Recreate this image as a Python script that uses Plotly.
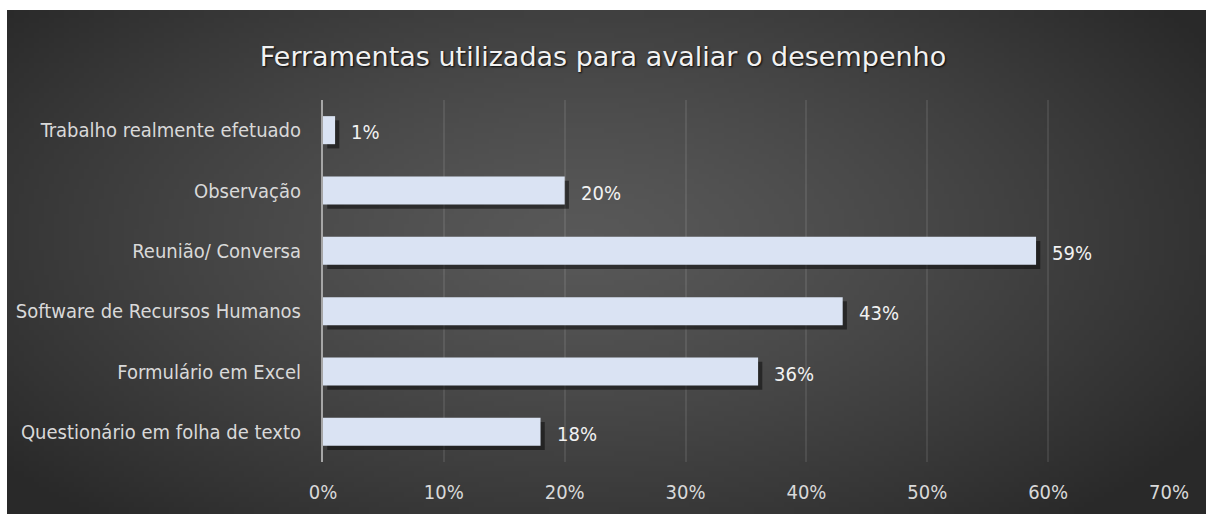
import base64, struct, zlib, math
import plotly.graph_objects as go

# ---- data ----
categories = ["Trabalho realmente efetuado", "Observação", "Reunião/ Conversa",
              "Software de Recursos Humanos", "Formulário em Excel",
              "Questionário em folha de texto"]
values = [1, 20, 59, 43, 36, 18]
title_text = "Ferramentas utilizadas para avaliar o desempenho"

# plotly categorical y goes bottom->top, so reverse for display
cats_plot = categories[::-1]
vals_plot = values[::-1]

# ---- gradient background image (style only) ----
def make_png(w, h):
    rows = []
    for j in range(h):
        row = bytearray([0])
        for i in range(w):
            dx = (i / (w - 1) - 0.48) / 0.62
            dy = (j / (h - 1) - 0.45) / 0.75
            r = min(1.0, math.sqrt(dx * dx + dy * dy))
            c = int(round(0x58 + (0x29 - 0x58) * r ** 1.3))
            row += bytes([c, c, c])
        rows.append(bytes(row))
    raw = b"".join(rows)
    def chunk(t, d):
        return struct.pack(">I", len(d)) + t + d + struct.pack(">I", zlib.crc32(t + d) & 0xffffffff)
    png = b"\x89PNG\r\n\x1a\n" + chunk(b"IHDR", struct.pack(">IIBBBBB", w, h, 8, 2, 0, 0, 0))
    png += chunk(b"IDAT", zlib.compress(raw, 9)) + chunk(b"IEND", b"")
    return "data:image/png;base64," + base64.b64encode(png).decode()

W, H = 1206, 515
L, R, T, B = 323, 37, 100, 53
pw, ph = W - L - R, H - T - B

bg = make_png(240, 100)

FONT = "DejaVu Sans Condensed, DejaVu Sans, sans-serif"
FS = 20
bw = 0.465

fig = go.Figure()
# shadow
fig.add_trace(go.Bar(
    y=cats_plot, x=vals_plot, base=0.35, orientation="h",
    width=bw, offset=-bw / 2 - 0.07,
    marker=dict(color="rgba(0,0,0,0.45)", line=dict(width=0)),
    hoverinfo="skip", showlegend=False))
# bars
fig.add_trace(go.Bar(
    y=cats_plot, x=vals_plot, orientation="h",
    width=bw, offset=-bw / 2,
    marker=dict(color="#DAE3F3", line=dict(width=0)),
    showlegend=False))

for c, v in zip(cats_plot, vals_plot):
    fig.add_annotation(x=v, y=c, text=f"{v}%", showarrow=False,
                       xanchor="left", yanchor="middle", xshift=14, yshift=-2,
                       font=dict(family=FONT, size=FS, color="#F2F2F2"))

fig.update_layout(
    width=W, height=H,
    margin=dict(l=L, r=R, t=T, b=B, pad=0),
    paper_bgcolor="white", plot_bgcolor="rgba(0,0,0,0)",
    barmode="overlay",
    title=dict(text=title_text, x=0.5, xref="container", xanchor="center",
               y=1 - 57 / H, yref="container", yanchor="middle",
               font=dict(family="DejaVu Sans, sans-serif", size=27, color="#F2F2F2",
                         shadow="1px 1px 2px rgba(0,0,0,0.9)")),
    xaxis=dict(range=[0, 70], dtick=10, ticksuffix="%", showgrid=True,
               gridcolor="rgba(255,255,255,0.09)", gridwidth=1.5,
               zeroline=False, showline=False, ticks="",
               ticklabelstandoff=16,
               tickfont=dict(family=FONT, size=FS, color="#D9D9D9")),
    yaxis=dict(showgrid=False, zeroline=False, showline=True,
               linecolor="#A6A6A6", linewidth=2, ticks="",
               ticklabelstandoff=16,
               tickfont=dict(family=FONT, size=FS, color="#D9D9D9")),
    images=[dict(source=bg, xref="paper", yref="paper",
                 x=(7 - L) / pw, y=1 + (T - 10) / ph,
                 sizex=(W - 7) / pw, sizey=(H - 1 - 10) / ph,
                 sizing="stretch", xanchor="left", yanchor="top", layer="below")],
)

fig.write_html("out.html")
